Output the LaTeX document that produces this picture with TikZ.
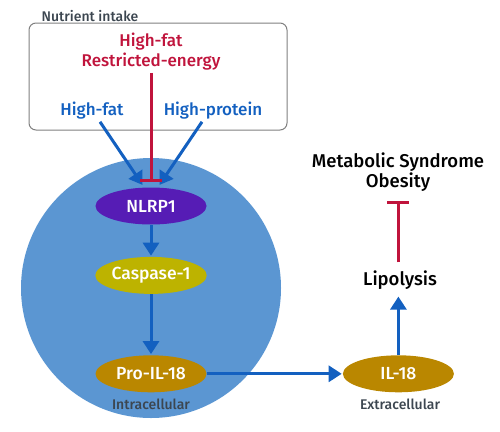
\documentclass[tikz,border=0pt]{standalone}
\usepackage{fontspec}
\setmainfont{Fira Sans}[UprightFont={* Medium}]
\usetikzlibrary{arrows.meta}
\usetikzlibrary{positioning}
\usetikzlibrary{shapes.geometric}

\definecolor{cellblue}{HTML}{5B96D2}
\definecolor{nlrpviolet}{HTML}{561CB5}
\definecolor{caspolive}{HTML}{BDB300}
\definecolor{ilgold}{HTML}{BA8700}
\definecolor{arrowblue}{HTML}{1360C0}
\definecolor{inhibred}{HTML}{C0143C}
\definecolor{notegray}{HTML}{3C4650}

\begin{document}
\begin{tikzpicture}[
    x=1pt, y=-1pt,
    protein/.style={ellipse, minimum width=111pt, minimum height=37pt, inner sep=0pt,
                    text=white, font=\fontsize{17.5}{20}\selectfont},
    maintext/.style={inner sep=2pt, align=center, font=\fontsize{17}{20}\selectfont},
    bigtext/.style={maintext, font=\fontsize{18.5}{20}\selectfont},
    smalltext/.style={inner sep=1pt, text=notegray, font=\fontsize{14}{16}\selectfont},
    activate/.style={draw=arrowblue, line width=3pt, -{Triangle[length=13pt,width=16pt]}},
    inhibit/.style={draw=inhibred, line width=3pt, -{Bar[width=22pt]}}
]
    \useasboundingbox (0,0) rectangle (500,431);

    % Cell and nutrient box
    \node[circle, fill=cellblue, minimum size=260pt, inner sep=0pt] (cell) at (151,288) {};
    \node[draw=gray, line width=1pt, rounded corners=7pt, minimum width=258pt,
          minimum height=107pt] (intake) at (158,76.5) {};
    \node[smalltext] (intakelabel) at (90,16) {Nutrient intake};

    % Diets
    \node[maintext, text=inhibred] (restricted) at (151,52) {High-fat\\Restricted-energy};
    \node[maintext, text=arrowblue] (highfat) at (92,111) {High-fat};
    \node[maintext, text=arrowblue] (highprotein) at (213,111) {High-protein};

    % Pathway
    \node[protein, fill=nlrpviolet] (nlrp) at (151,206) {NLRP1};
    \node[protein, fill=caspolive, below=32pt of nlrp] (caspase) {Caspase-1};
    \node[protein, fill=ilgold, below=61pt of caspase] (proil) {Pro-IL-18};
    \node[protein, fill=ilgold, right=136pt of proil] (il) {IL-18};
    \node[smalltext] (intra) at (151,404) {Intracellular};
    \node[smalltext] (extra) at (400,404) {Extracellular};

    \node[bigtext] (lipolysis) at (400,280) {Lipolysis};
    \node[bigtext] (syndrome) at (398,172) {Metabolic Syndrome\\Obesity};

    % Connectors
    \draw[activate, shorten >=3pt] ([xshift=8pt]highfat.south) -- (nlrp.110);
    \draw[activate, shorten >=3pt] ([xshift=-11pt]highprotein.south) -- (nlrp.70);
    \draw[inhibit, shorten >=5pt] (restricted.south) -- (nlrp.north);
    \draw[activate, shorten >=1pt] (nlrp) -- (caspase);
    \draw[activate, shorten >=1pt] (caspase) -- (proil);
    \draw[activate, shorten >=1pt] (proil) -- (il);
    \draw[activate, shorten >=5pt] (il.north) -- (il |- lipolysis.south);
    \draw[inhibit, shorten <=6pt, shorten >=7pt] (il |- lipolysis.north) -- (il |- syndrome.south);

\end{tikzpicture}
\end{document}
